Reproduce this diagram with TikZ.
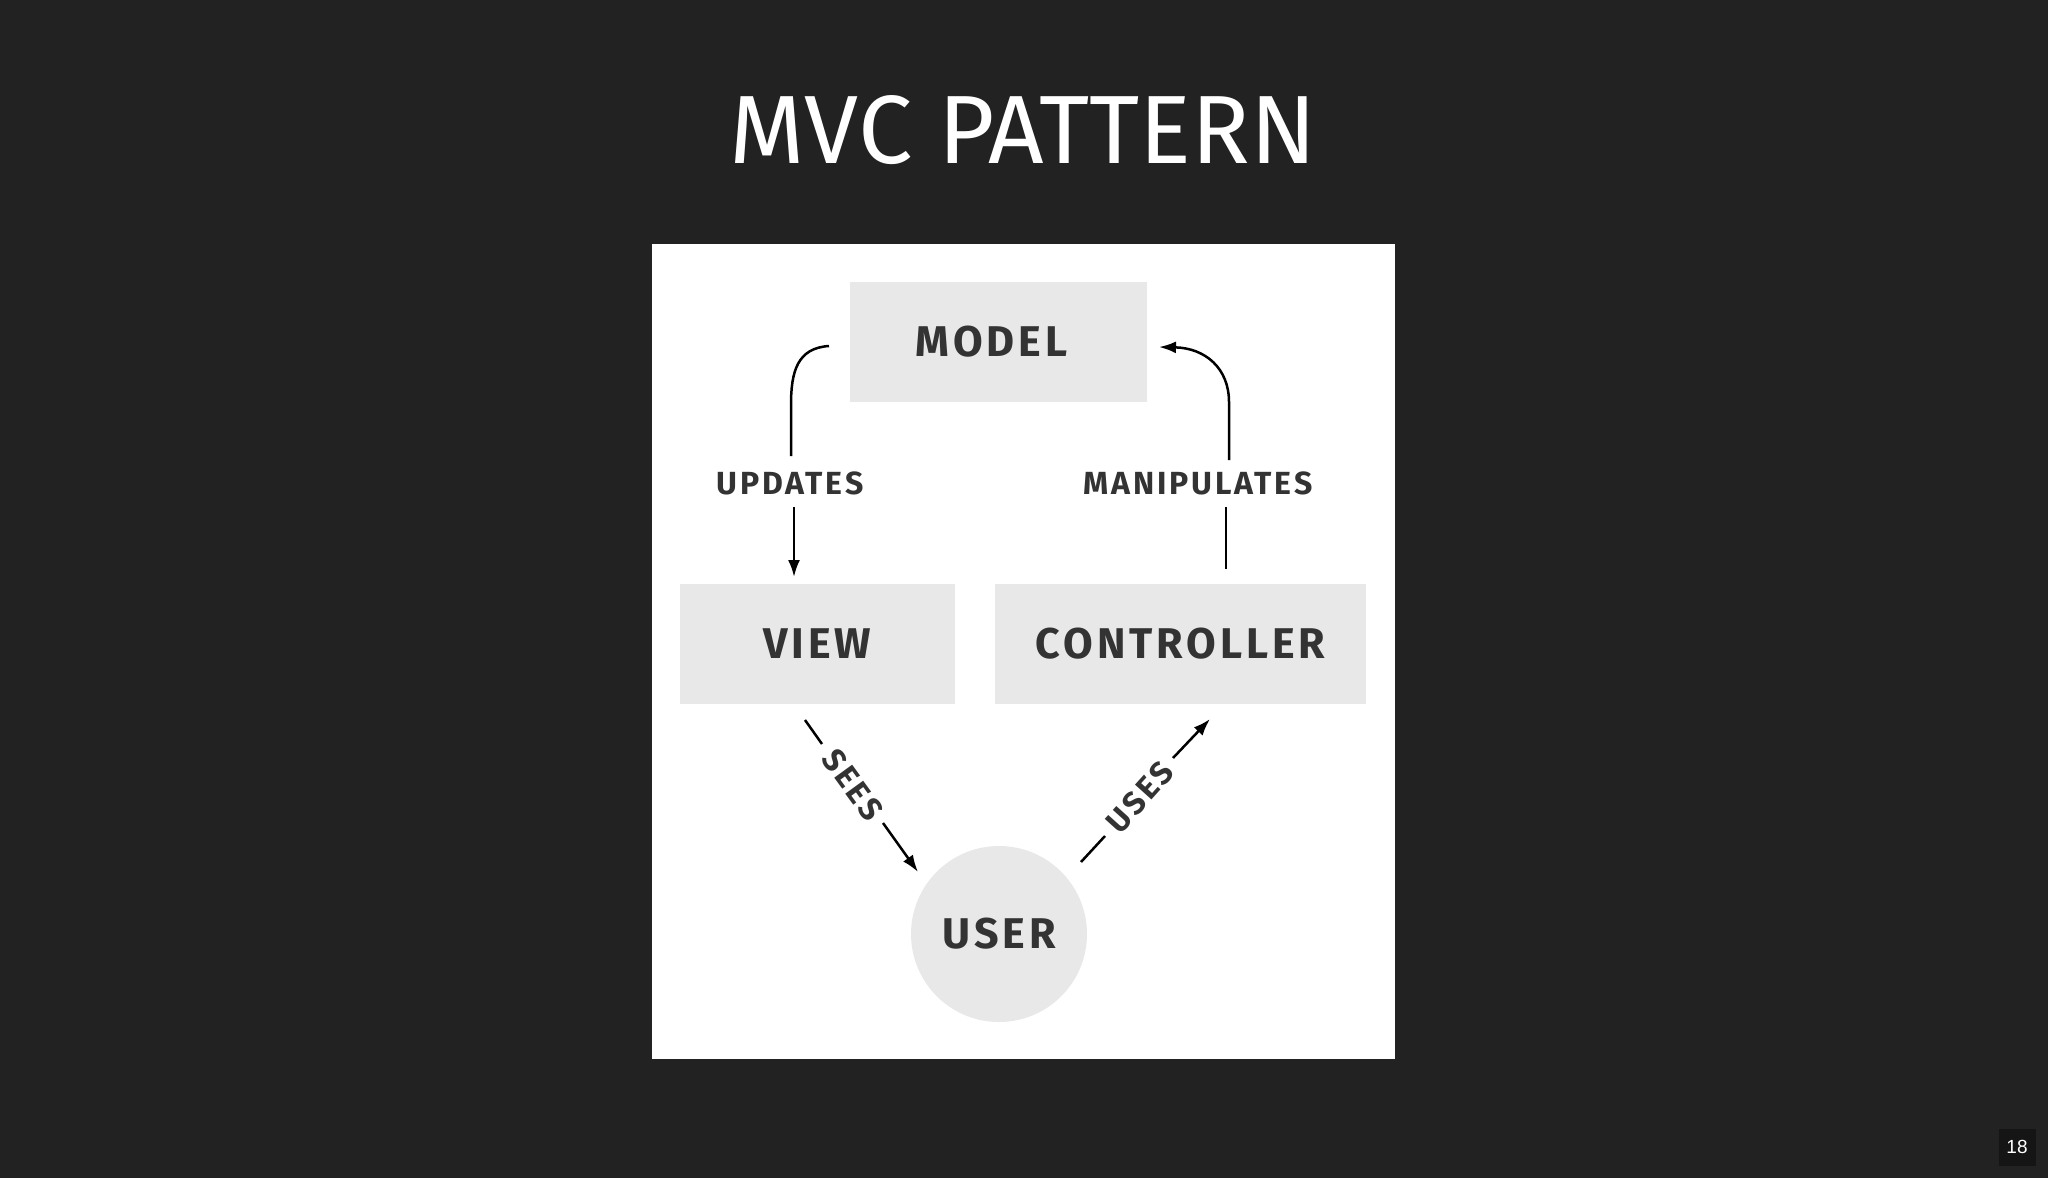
\documentclass[tikz,border=0pt]{standalone}
\usepackage{fontspec}
\setmainfont{Fira Sans}
\newfontfamily\lblfontfam{Fira Sans}[LetterSpace=9]
\newfontfamily\numfont{Liberation Sans}
\usetikzlibrary{arrows.meta}
\definecolor{bgc}{HTML}{222222}
\definecolor{boxc}{HTML}{E8E8E8}
\definecolor{txtc}{HTML}{333333}
\definecolor{numbg}{HTML}{151515}
\tikzset{
  boxnode/.style={fill=boxc, minimum height=120pt, inner sep=0pt, text=txtc,
    font=\lblfontfam\fontsize{43}{50}\selectfont\bfseries},
  usernode/.style={circle, fill=boxc, minimum size=176pt, inner sep=0pt, text=txtc,
    font=\lblfontfam\fontsize{43}{50}\selectfont\bfseries},
  lbl/.style={text=txtc, inner sep=0pt, font=\lblfontfam\fontsize{32}{38}\selectfont\bfseries},
  conn/.style={line width=2.5pt, black},
  tip/.style={-{Latex[length=17pt,width=12pt]}}
}
\begin{document}
\begin{tikzpicture}[x=1pt,y=-1pt]
\useasboundingbox (0,0) rectangle (2048,1178);
\fill[bgc] (0,0) rectangle (2048,1178);
\fill[white] (652,244) rectangle (1395,1059);

\node[text=white, inner sep=0pt, font=\fontsize{97}{116}\selectfont] (title) at (1023,130) {MVC PATTERN};
\node[fill=numbg, text=white, minimum size=37pt, inner sep=0pt, font=\numfont\fontsize{19}{22}\selectfont] (num) at (2017,1147) {18};

\node[boxnode, minimum width=297pt] (model) at (998.5,342) {MODEL\kern14pt\relax};
\node[boxnode, minimum width=275pt] (view) at (817.5,644) {VIEW};
\node[boxnode, minimum width=371pt] (ctrl) at (1180.5,644) {CONTROLLER};
\node[usernode] (user) at (999,934) {USER};

\node[lbl] (updates) at (790,483) {UPDATES};
\node[lbl] (manip) at (1198,483) {MANIPULATES};
\node[lbl, rotate=-54] (sees) at (853,785) {SEES};
\node[lbl, rotate=48] (uses) at (1140,797) {USES};

% updates
\coordinate (u1) at (829,346);
\coordinate (u2) at (791,456);
\coordinate (u3) at (794,507);
\coordinate (u4) at (794,577);
\draw[conn] (u1) .. controls (797,348) and (791,372) .. (791,405) -- (u2);
\draw[conn, tip] (u3) -- (u4);
% manipulates
\coordinate (m1) at (1226,569);
\coordinate (m2) at (1226,507);
\coordinate (m3) at (1229,460);
\coordinate (m4) at (1159,347);
\draw[conn] (m1) -- (m2);
\draw[conn, tip] (m3) -- (1229,402) .. controls (1229,368) and (1205,348) .. (m4);
% sees
\coordinate (s1) at (805,720);
\coordinate (s2) at (822,744);
\coordinate (s3) at (883,823);
\coordinate (s4) at (918,872);
\draw[conn] (s1) -- (s2);
\draw[conn, tip] (s3) -- (s4);
% uses
\coordinate (e1) at (1081,862);
\coordinate (e2) at (1105,836);
\coordinate (e3) at (1173,758);
\coordinate (e4) at (1210,719);
\draw[conn] (e1) -- (e2);
\draw[conn, tip] (e3) -- (e4);
\end{tikzpicture}
\end{document}
